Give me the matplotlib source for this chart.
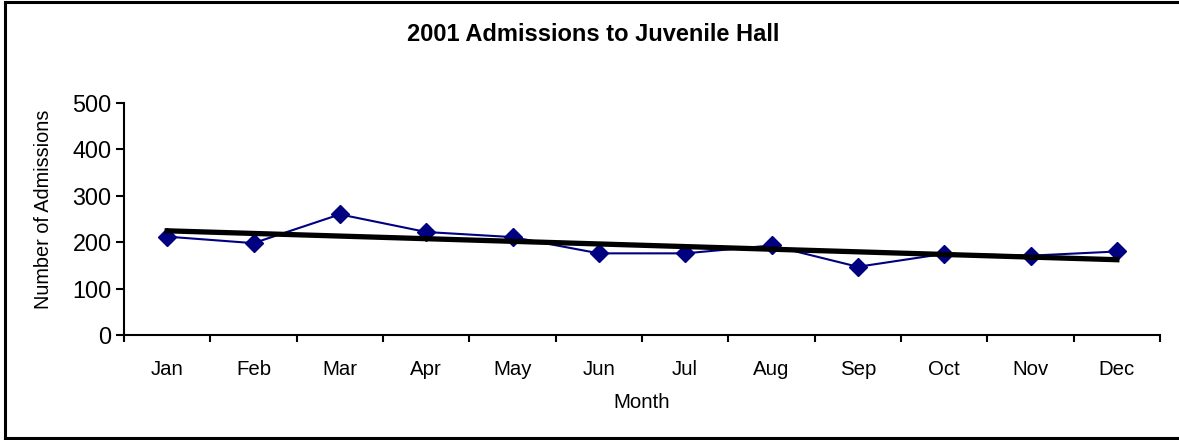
import matplotlib.pyplot as plt
from matplotlib.lines import Line2D
import numpy as np

months = ['Jan', 'Feb', 'Mar', 'Apr', 'May', 'Jun', 'Jul', 'Aug', 'Sep', 'Oct', 'Nov', 'Dec']
admissions = [212, 198, 260, 222, 211, 176, 176, 193, 147, 175, 171, 180]
y_ticks = [0, 100, 200, 300, 400, 500]

plt.rcParams['font.family'] = ['Liberation Sans', 'DejaVu Sans']

fig = plt.figure(figsize=(11.79, 4.40), dpi=100)
ax = fig.add_axes([0.1052, 0.2386, 0.8787, 0.5273])

x = np.arange(len(months))
ax.plot(x, admissions, color='#000080', linewidth=1.5, marker='D',
        markersize=9.5, markerfacecolor='#000080', markeredgecolor='#000080', zorder=3)

# linear trend line over the months
slope, intercept = np.polyfit(x, admissions, 1)
ax.plot(x, slope * x + intercept, color='black', linewidth=3.8, zorder=4)

ax.set_xlim(-0.5, len(months) - 0.5)
ax.set_ylim(0, 500)
ax.set_yticks(y_ticks)
ax.set_yticklabels([str(v) for v in y_ticks], fontsize=16.8)
ax.set_xticks(x)
ax.set_xticklabels(months, fontsize=14.7)
ax.set_xticks(np.arange(-0.5, len(months)), minor=True)
ax.tick_params(axis='x', which='major', length=0, pad=18)
ax.tick_params(axis='x', which='minor', length=5, width=1.5, direction='out')
ax.tick_params(axis='y', length=6, width=1.5, direction='out', pad=3)

for side in ['top', 'right']:
    ax.spines[side].set_visible(False)
for side in ['left', 'bottom']:
    ax.spines[side].set_linewidth(1.5)

ax.set_xlabel('Month', fontsize=14.7, labelpad=10)
ax.set_ylabel('Number of Admissions', fontsize=14.3)
ax.yaxis.set_label_coords(-0.0685, 0.54)
fig.text(0.5034, 0.922, '2001 Admissions to Juvenile Hall', fontsize=17,
         fontweight='bold', ha='center', va='center')

# outer chart border (right side is cut off in the original)
bx0, by0, by1 = 5 / 1179, 2.5 / 440, 437.5 / 440
for xs, ys in [([bx0, 1.0], [by1, by1]), ([bx0, bx0], [by0, by1]), ([bx0, 1.0], [by0, by0])]:
    fig.add_artist(Line2D(xs, ys, transform=fig.transFigure, color='black', linewidth=2.2))

fig.savefig('out.png', dpi=100)
